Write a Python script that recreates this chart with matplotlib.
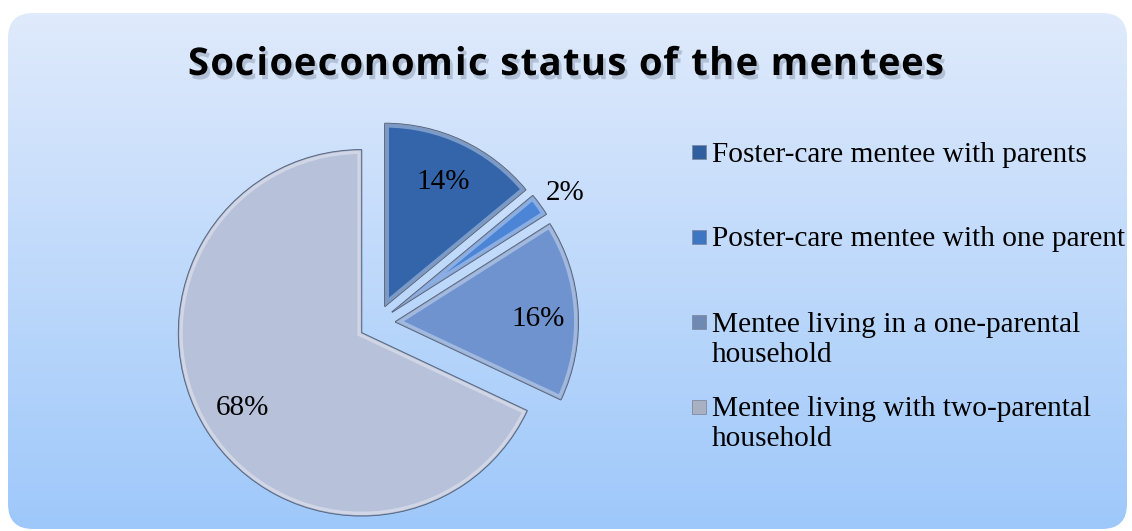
import numpy as np
import matplotlib
matplotlib.use("Agg")
import matplotlib.pyplot as plt
from matplotlib.patches import FancyBboxPatch, Rectangle, Wedge
from matplotlib.font_manager import FontProperties
import matplotlib.patheffects as pe

# datos del grafico
labels = [
    "Foster-care mentee with parents",
    "Poster-care mentee with one parent",
    "Mentee living in a one-parental\nhousehold",
    "Mentee living with two-parental\nhousehold",
]
values = [14, 2, 16, 68]
slice_colors = ["#3465ab", "#4c84d6", "#6f93cf", "#b8c1da"]
legend_colors = ["#2f5f9f", "#3d76c2", "#6f89b3", "#a9b0c2"]
label_radius = [0.75, 1.15, 0.78, 0.77]   # donde va cada porcentaje
label_shift = [0, -1.5, -2.5, 0]          # ajuste de angulo (grados)
title = "Socioeconomic status of the mentees"

W, H = 1132, 531
fig = plt.figure(figsize=(W / 100, H / 100), dpi=100)
fig.patch.set_facecolor("white")

# fondo con degradado dentro de un rectangulo redondeado
bg = fig.add_axes([0, 0, 1, 1])
bg.set_xlim(0, W)
bg.set_ylim(0, H)
bg.axis("off")
top = np.array([225, 235, 252]) / 255
bot = np.array([158, 200, 250]) / 255
t = np.linspace(0, 1, 256)[:, None]
grad = (top * (1 - t) + bot * t)[:, None, :] * np.ones((1, 2, 1))
box = FancyBboxPatch((8, 2), W - 13, H - 15,
                     boxstyle="round,pad=0,rounding_size=25",
                     facecolor="none", edgecolor="none")
bg.add_patch(box)
im = bg.imshow(grad, extent=[0, W, 0, H], aspect="auto", origin="upper")
im.set_clip_path(box)

# titulo con espaciado entre letras (se dibuja letra por letra)
tprops = FontProperties(family="Open Sans", weight="bold", size=27.5)
renderer = fig.canvas.get_renderer()
def text_w(s):
    return renderer.get_text_width_height_descent(s, tprops, ismath=False)[0]
spacing = 1.3
ref_w = text_w("x")
starts = [text_w(title[:i] + "x") - ref_w if i > 0 else 0 for i in range(len(title))]
starts = [s + i * spacing for i, s in enumerate(starts)]
total = starts[-1] + text_w(title[-1])
x_start = W / 2 - total / 2
shadow = [pe.withSimplePatchShadow(offset=(2, -3), shadow_rgbFace="#5a6a80", alpha=0.3)]
for ch, s in zip(title, starts):
    if ch == " ":
        continue
    bg.text(x_start + s, H - 75, ch, ha="left", va="baseline", fontproperties=tprops,
            color="black", path_effects=shadow)

# pastel
cx, cy, r = 377, H - 323, 183
lim = 1.4
ax = fig.add_axes([(cx - lim * r) / W, (cy - lim * r) / H, 2 * lim * r / W, 2 * lim * r / H])
wedges, _ = ax.pie(values, colors=slice_colors, startangle=90, counterclock=False,
                   explode=[0.1] * len(values),
                   wedgeprops=dict(edgecolor="#4a5a78", linewidth=1.0))
ax.set_xlim(-lim, lim)
ax.set_ylim(-lim, lim)
ax.axis("off")

for w, rad, sh, v in zip(wedges, label_radius, label_shift, values):
    # brillo interior tipo bisel
    glow = Wedge(w.center, w.r, w.theta1, w.theta2, facecolor="none",
                 edgecolor="white", linewidth=6, alpha=0.35)
    ax.add_patch(glow)
    glow.set_clip_path(w)
    ang = np.deg2rad((w.theta1 + w.theta2) / 2 + sh)
    x0, y0 = w.center
    ax.text(x0 + rad * np.cos(ang), y0 + rad * np.sin(ang), f"{v}%",
            ha="center", va="center", fontsize=21, family="Liberation Serif")

# leyenda manual
lx, ly0, step, line_h = 692, H - 152, 85, 30
for i, (lab, col) in enumerate(zip(labels, legend_colors)):
    y = ly0 - i * step
    bg.add_patch(Rectangle((lx, y - 7), 14, 14, facecolor=col, edgecolor="#7f8aa0", linewidth=0.6))
    for j, line in enumerate(lab.split("\n")):
        bg.text(lx + 20, y - 9.5 - j * line_h, line, ha="left", va="baseline",
                fontsize=21.2, family="Liberation Serif")

fig.savefig("out.png", dpi=100)
